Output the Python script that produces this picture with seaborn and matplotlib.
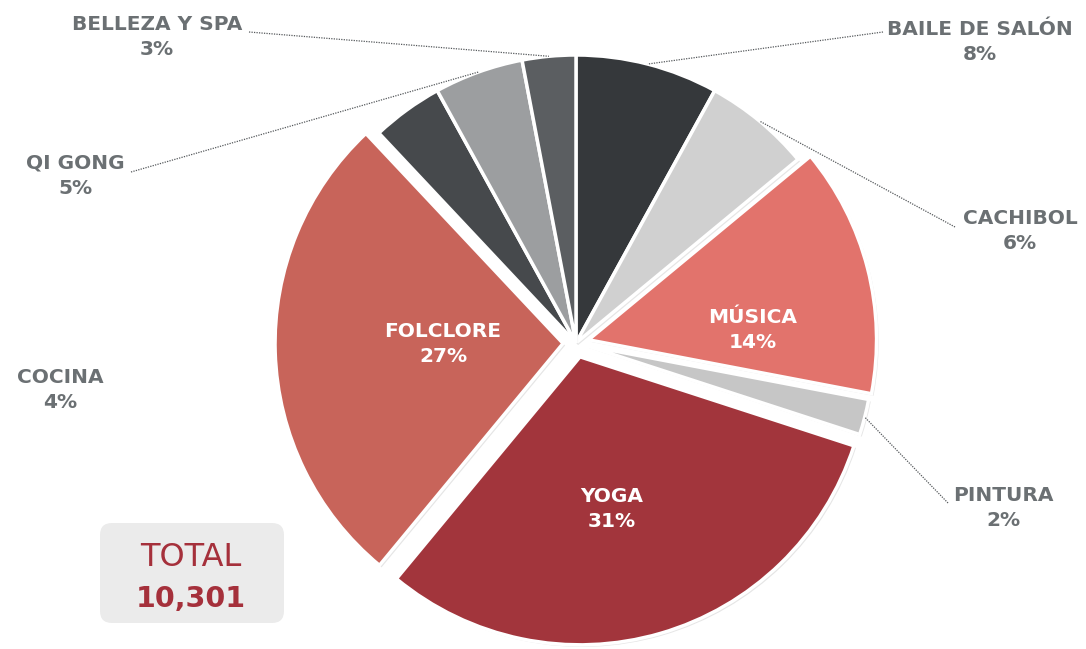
import numpy as np
import matplotlib.pyplot as plt
import matplotlib.patheffects as pe
import seaborn as sns
from matplotlib.patches import FancyBboxPatch

sns.set_theme(style="white")
plt.rcParams['font.family'] = ['DejaVu Sans']

# data, clockwise from 12 o'clock
categories = ["BAILE DE SALÓN", "CACHIBOL", "MÚSICA", "PINTURA", "YOGA",
              "FOLCLORE", "COCINA", "QI GONG", "BELLEZA Y SPA"]
percent = [8, 6, 14, 2, 31, 27, 4, 5, 3]
total = "10,301"

colors = ["#35383b", "#d0d0d0", "#e2736c", "#c6c6c6", "#a2353c",
          "#c8645a", "#46494c", "#9c9ea0", "#5b5e61"]
explode = [0, 0, 0.045, 0.035, 0.05, 0.045, 0, 0, 0]

W, H = 1086, 649
def P(x, y):
    # pixel coords (y down) -> data coords (y up)
    return x, H - y

cx, cy = P(576, 343)
R = 288

fig = plt.figure(figsize=(10.86, 6.49), dpi=100)
ax = fig.add_axes([0, 0, 1, 1])

# matplotlib's explode is in data units, so scale by the radius
wedges, _ = ax.pie(percent, colors=colors, startangle=90, counterclock=False,
                   explode=[e * R for e in explode], center=(cx, cy), radius=R,
                   wedgeprops=dict(edgecolor="white", linewidth=2.5))
for w in wedges:
    w.set_path_effects([pe.SimplePatchShadow(offset=(1.5, -1.5), shadow_rgbFace="#9a9a9a", alpha=0.25),
                        pe.Normal()])
ax.set_xlim(0, W)
ax.set_ylim(0, H)
ax.set_aspect("equal")
ax.axis("off")

grey = "#6b7073"
fs = 14.5

# labels inside the big slices
inside = {"FOLCLORE": (443, 344), "MÚSICA": (753, 330), "YOGA": (612, 509)}
# labels outside: (text centre, line start on the text side)
outside = {
    "BELLEZA Y SPA": ((157, 37), (249, 32)),
    "QI GONG": ((75, 176), (131, 172)),
    "COCINA": ((60, 390), None),
    "BAILE DE SALÓN": ((980, 42), (883, 32)),
    "CACHIBOL": ((1020, 231), (955, 227)),
    "PINTURA": ((1003, 508), (948, 503)),
}

for w, name, pct in zip(wedges, categories, percent):
    txt = f"{name}\n{pct}%"
    if name in inside:
        x, y = P(*inside[name])
        ax.text(x, y, txt, ha="center", va="center", color="white",
                fontsize=fs, fontweight="bold", linespacing=1.45)
        continue
    (tx, ty), start = outside[name]
    x, y = P(tx, ty)
    ax.text(x, y, txt, ha="center", va="center", color=grey,
            fontsize=fs, fontweight="bold", linespacing=1.45)
    if start is None:
        continue
    mid = np.deg2rad((w.theta1 + w.theta2) / 2)
    wx = w.center[0] + w.r * np.cos(mid)
    wy = w.center[1] + w.r * np.sin(mid)
    sx, sy = P(*start)
    ax.plot([sx, wx], [sy, wy], color="#55595c", lw=0.9, ls=(0, (1, 1)))

# total box
bx, by = P(100, 623)
box = FancyBboxPatch((bx + 12, by + 12), 184 - 24, 100 - 24,
                     boxstyle="round,pad=12", fc="#ebebeb", ec="none")
ax.add_patch(box)
ax.text(*P(191, 558), "TOTAL", ha="center", va="center", color="#a5303b",
        fontsize=23)
ax.text(*P(191, 599), total, ha="center", va="center", color="#a5303b",
        fontsize=20.5, fontweight="bold")

fig.savefig("out.png", dpi=100)
